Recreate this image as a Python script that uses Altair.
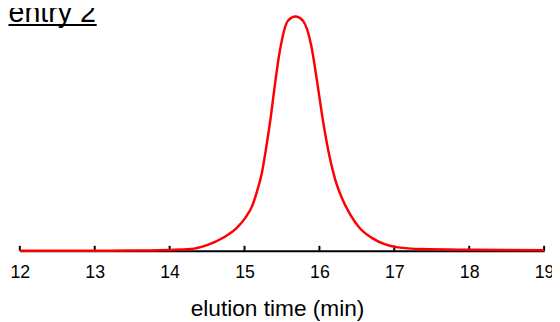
import altair as alt
import pandas as pd

# ---- data ----
time_min = [12.0, 13.0, 13.5, 13.85, 14.0, 14.28, 14.50, 14.72, 14.90, 15.01,
            15.10, 15.16, 15.23, 15.29, 15.35, 15.41, 15.47, 15.58, 15.68, 15.78,
            15.89, 15.97, 16.05, 16.13, 16.21, 16.30, 16.41, 16.54, 16.70, 16.87,
            17.05, 17.36, 18.01, 18.52, 19.0]
intensity = [0, 0, 0.08, 0.21, 0.34, 0.72, 2.40, 5.64, 9.84, 14.05,
             18.93, 24.57, 32.98, 44.17, 57.0, 72.0, 85.0, 98.19, 100.0, 98.19,
             87.67, 72.0, 55.0, 41.0, 30.5, 22.5, 15.5, 9.6, 5.5, 2.8,
             1.43, 0.72, 0.42, 0.29, 0.21]
tick_values = [12, 13, 14, 15, 16, 17, 18, 19]
x_label = "elution time (min)"
panel_label = ["entry 2"]

curve = pd.DataFrame({"time": time_min, "signal": intensity})
ticks = pd.DataFrame({"time": tick_values})
label_df = pd.DataFrame({"text": panel_label})

FONT = "Liberation Sans"
W, H = 532, 244
x_scale = alt.Scale(domain=[12, 19], nice=False, zero=False)
y_scale = alt.Scale(domain=[0, 102.65], nice=False, zero=True)

x_axis = alt.Axis(
    values=tick_values, title=x_label, format="d", grid=False,
    tickSize=0, domainColor="black", domainWidth=2,
    labelFont=FONT, labelFontSize=18, labelColor="black", labelPadding=13,
    labelFlush=False, labelOverlap=False,
    titleFont=FONT, titleFontSize=23, titleFontWeight="normal", titleColor="black",
    titleX=261, titleY=66, titleBaseline="alphabetic")

line = alt.Chart(curve).mark_line(
    color="#ff0000", strokeWidth=2.5, interpolate="monotone"
).encode(
    x=alt.X("time:Q", scale=x_scale, axis=x_axis, title=x_label),
    y=alt.Y("signal:Q", scale=y_scale, axis=None),
)

tick_rules = alt.Chart(ticks).mark_rule(color="black", strokeWidth=2).encode(
    x=alt.X("time:Q", scale=x_scale, axis=x_axis, title=x_label),
    y=alt.value(H - 5),
    y2=alt.value(H),
)

underline = alt.Chart(label_df).mark_rule(color="black", strokeWidth=2).encode(
    x=alt.value(-11.5), x2=alt.value(78), y=alt.value(15)
)

title_text = alt.Chart(label_df).mark_text(
    font=FONT, fontSize=29, align="left", baseline="alphabetic", color="black"
).encode(
    text="text:N", x=alt.value(-11.5), y=alt.value(12)
)

chart = alt.layer(tick_rules, line, underline, title_text).properties(
    width=W, height=H,
    padding={"left": 12, "top": 0, "right": 8, "bottom": 70},
    autosize=alt.AutoSizeParams(type="none"),
).configure_view(stroke=None)

chart.save("out.html", embed_options={"renderer": "svg", "actions": False})
